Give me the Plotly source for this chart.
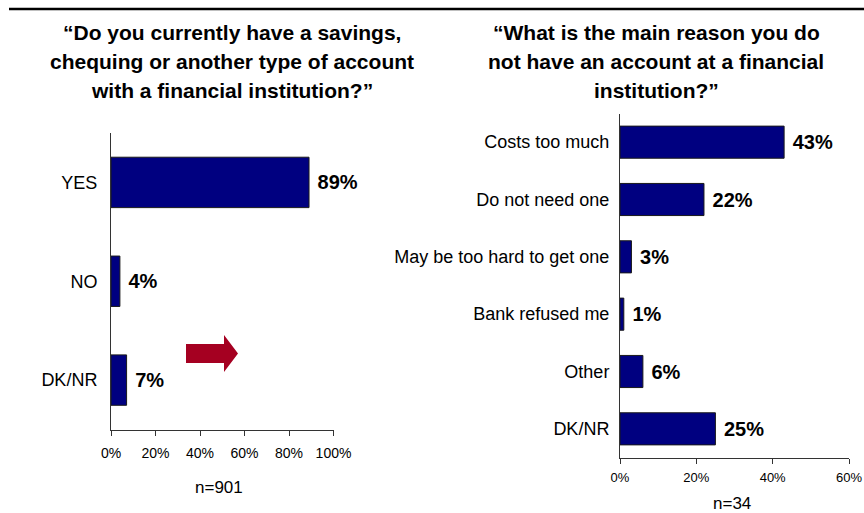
import plotly.graph_objects as go

W, H = 864, 513

# ---- data ----
left_categories = ["YES", "NO", "DK/NR"]
left_values = [89, 4, 7]
left_ticks = [0, 20, 40, 60, 80, 100]

right_categories = ["Costs too much", "Do not need one", "May be too hard to get one",
                    "Bank refused me", "Other", "DK/NR"]
right_values = [43, 22, 3, 1, 6, 25]
right_ticks = [0, 20, 40, 60]

left_title = ["\u201cDo you currently have a savings,",
              "chequing or another type of account",
              "with a financial institution?\u201d"]
right_title = ["\u201cWhat is the main reason you do",
               "not have an account at a financial",
               "institution?\u201d"]
left_n = "n=901"
right_n = "n=34"

NAVY = "#000080"
FONT = "Liberation Sans, Arial"


def px(x):
    return x / W


def py(y):
    return 1 - y / H


fig = go.Figure()

fig.add_trace(go.Bar(
    x=left_values, y=left_categories, orientation="h", width=0.51,
    marker=dict(color=NAVY, line=dict(color="#1a1a1a", width=1)),
    text=[f"<b> {v}%</b>" for v in left_values], textposition="outside",
    textfont=dict(family=FONT, size=20, color="black"),
    cliponaxis=False, xaxis="x", yaxis="y", showlegend=False, hoverinfo="skip",
))
fig.add_trace(go.Bar(
    x=right_values, y=right_categories, orientation="h", width=0.56,
    marker=dict(color=NAVY, line=dict(color="#1a1a1a", width=1)),
    text=[f"<b> {v}%</b>" for v in right_values], textposition="outside",
    textfont=dict(family=FONT, size=20, color="black"),
    cliponaxis=False, xaxis="x2", yaxis="y2", showlegend=False, hoverinfo="skip",
))

axis_common = dict(showline=True, linecolor="#333333", linewidth=1, showgrid=False,
                   zeroline=False, fixedrange=True, automargin=False)

fig.update_layout(
    width=W, height=H, margin=dict(l=0, r=0, t=0, b=0, autoexpand=False),
    paper_bgcolor="white", plot_bgcolor="white",
    xaxis=dict(domain=[px(111), px(333.5)], range=[0, 100], tickvals=left_ticks,
               ticktext=[f"{t}%" for t in left_ticks], ticks="outside", ticklen=5,
               tickcolor="#333333", tickfont=dict(family=FONT, size=14, color="black"),
               ticklabelstandoff=6, anchor="y", **axis_common),
    yaxis=dict(domain=[py(429.5), py(133)], autorange="reversed", ticks="",
               tickfont=dict(family=FONT, size=18, color="black"),
               ticklabelstandoff=9, anchor="x", **axis_common),
    xaxis2=dict(domain=[px(620), px(849)], range=[0, 60], tickvals=right_ticks,
                ticktext=[f"{t}%" for t in right_ticks], ticks="outside", ticklen=5,
                tickcolor="#333333", tickfont=dict(family=FONT, size=13, color="black"),
                ticklabelstandoff=3, anchor="y2", **axis_common),
    yaxis2=dict(domain=[py(457.5), py(113.5)], autorange="reversed", ticks="",
                tickfont=dict(family=FONT, size=18, color="black"),
                ticklabelstandoff=6, anchor="x2", **axis_common),
)

# top rule
fig.add_shape(type="line", xref="paper", yref="paper", x0=px(9), x1=px(864),
              y0=py(9), y1=py(9), line=dict(color="black", width=2.5))

# red arrow
pts = [(186, 344), (224, 344), (224, 335), (238, 353.5), (224, 372), (224, 363), (186, 363)]
path = "M " + " L ".join(f"{px(x)},{py(y)}" for x, y in pts) + " Z"
fig.add_shape(type="path", xref="paper", yref="paper", path=path,
              fillcolor="#A50021", line=dict(width=0))

# titles
for i, line in enumerate(left_title):
    fig.add_annotation(text=f"<b>{line}</b>", xref="paper", yref="paper",
                       x=px(232), y=py(32 + i * 29.5), xanchor="center", yanchor="middle",
                       showarrow=False, font=dict(family=FONT, size=21, color="black"))
for i, line in enumerate(right_title):
    fig.add_annotation(text=f"<b>{line}</b>", xref="paper", yref="paper",
                       x=px(656), y=py(32 + i * 29.5), xanchor="center", yanchor="middle",
                       showarrow=False, font=dict(family=FONT, size=21, color="black"))

fig.add_annotation(text=left_n, xref="paper", yref="paper", x=px(219), y=py(487),
                   xanchor="center", yanchor="middle", showarrow=False,
                   font=dict(family=FONT, size=17, color="black"))
fig.add_annotation(text=right_n, xref="paper", yref="paper", x=px(732), y=py(503),
                   xanchor="center", yanchor="middle", showarrow=False,
                   font=dict(family=FONT, size=17, color="black"))

fig.write_html("out.html")
